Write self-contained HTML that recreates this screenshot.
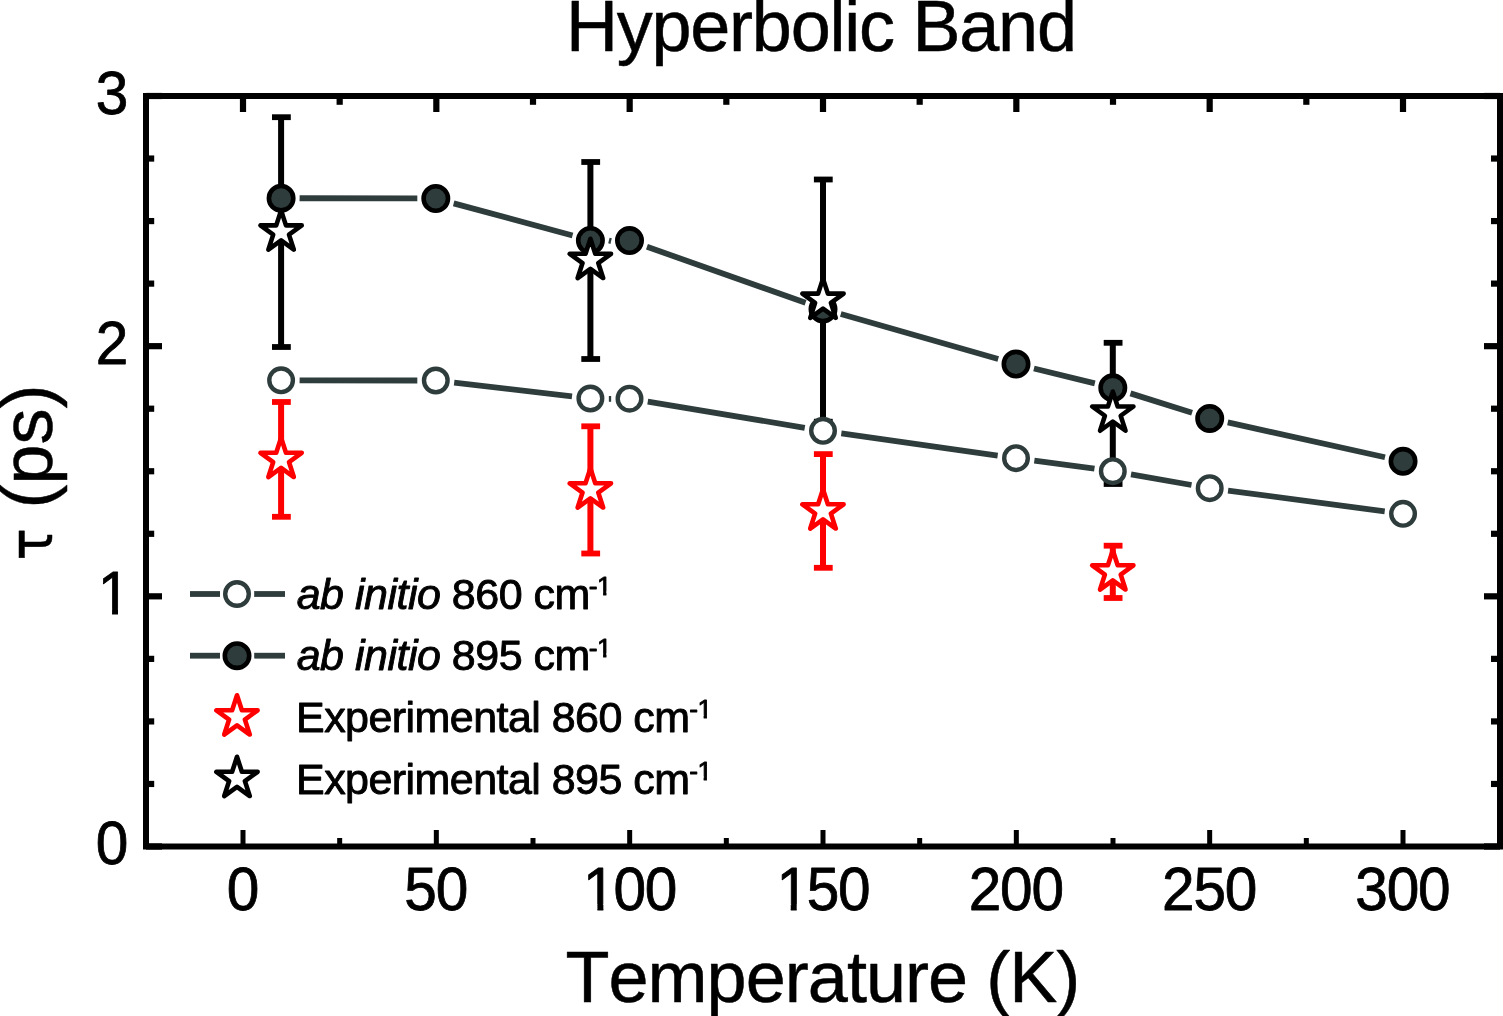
<!DOCTYPE html>
<html lang="en">
<head>
<meta charset="utf-8">
<title>Hyperbolic Band</title>
<style>
html,body{margin:0;padding:0;background:#fff;}
body{width:1503px;height:1016px;overflow:hidden;}
svg{display:block;}
svg text{font-family:"Liberation Sans",sans-serif;fill:#000;font-kerning:none;}
svg text.sym{font-family:"DejaVu Sans","Liberation Sans",sans-serif;}
</style>
</head>
<body>
<svg width="1503" height="1016" viewBox="0 0 1503 1016">
<rect x="0" y="0" width="1503" height="1016" fill="#fff"/>
<!-- error bars -->
<g stroke="#000000" fill="none">
<line x1="281.1" y1="117.2" x2="281.1" y2="347" stroke-width="6"/>
<line x1="272" y1="117.2" x2="290.8" y2="117.2" stroke-width="5.8"/>
<line x1="272" y1="347" x2="290.8" y2="347" stroke-width="5.8"/>
<line x1="590.4" y1="162" x2="590.4" y2="359" stroke-width="6"/>
<line x1="581.3" y1="162" x2="600.1" y2="162" stroke-width="5.8"/>
<line x1="581.3" y1="359" x2="600.1" y2="359" stroke-width="5.8"/>
<line x1="823" y1="179.5" x2="823" y2="421.7" stroke-width="6"/>
<line x1="813.9" y1="179.5" x2="832.7" y2="179.5" stroke-width="5.8"/>
<line x1="813.9" y1="421.7" x2="832.7" y2="421.7" stroke-width="5.8"/>
<line x1="1112.8" y1="342.8" x2="1112.8" y2="484" stroke-width="6"/>
<line x1="1103.7" y1="342.8" x2="1122.5" y2="342.8" stroke-width="5.8"/>
<line x1="1103.7" y1="484" x2="1122.5" y2="484" stroke-width="5.8"/>
</g>
<g stroke="#ff0000" fill="none">
<line x1="281.1" y1="402" x2="281.1" y2="516.8" stroke-width="6"/>
<line x1="272" y1="402" x2="290.8" y2="402" stroke-width="5.8"/>
<line x1="272" y1="516.8" x2="290.8" y2="516.8" stroke-width="5.8"/>
<line x1="590.4" y1="426.3" x2="590.4" y2="553.5" stroke-width="6"/>
<line x1="581.3" y1="426.3" x2="600.1" y2="426.3" stroke-width="5.8"/>
<line x1="581.3" y1="553.5" x2="600.1" y2="553.5" stroke-width="5.8"/>
<line x1="823" y1="454.1" x2="823" y2="567.8" stroke-width="6"/>
<line x1="813.9" y1="454.1" x2="832.7" y2="454.1" stroke-width="5.8"/>
<line x1="813.9" y1="567.8" x2="832.7" y2="567.8" stroke-width="5.8"/>
<line x1="1112.8" y1="545.7" x2="1112.8" y2="598" stroke-width="6"/>
<line x1="1103.7" y1="545.7" x2="1122.5" y2="545.7" stroke-width="5.8"/>
<line x1="1103.7" y1="598" x2="1122.5" y2="598" stroke-width="5.8"/>
</g>
<!-- series lines -->
<g stroke="#2e3d3c" stroke-width="5.8" fill="none">
<line x1="299.6" y1="380.32" x2="417.3" y2="380.48"/>
<line x1="454.18" y1="382.64" x2="572.02" y2="396.36"/>
<line x1="608.85" y1="398.9" x2="611.15" y2="398.9"/>
<line x1="647.75" y1="401.73" x2="804.75" y2="427.77"/>
<line x1="841.32" y1="433.4" x2="997.68" y2="455.6"/>
<line x1="1034.34" y1="460.66" x2="1094.46" y2="468.74"/>
<line x1="1131.02" y1="474.4" x2="1191.48" y2="485"/>
<line x1="1228.04" y1="490.63" x2="1384.71" y2="511.37"/>
<line x1="299.6" y1="198.24" x2="417.3" y2="198.46"/>
<line x1="453.66" y1="203.34" x2="572.54" y2="235.56"/>
<line x1="608.88" y1="240.52" x2="611.12" y2="241.08"/>
<line x1="646.95" y1="246.76" x2="805.55" y2="302.74"/>
<line x1="840.79" y1="313.99" x2="998.21" y2="359.01"/>
<line x1="1033.97" y1="368.5" x2="1094.83" y2="383.4"/>
<line x1="1130.44" y1="393.37" x2="1192.06" y2="412.83"/>
<line x1="1227.76" y1="422.41" x2="1384.99" y2="457.29"/>
</g>
<!-- markers -->
<g stroke="#2e3d3c" fill="#fff" stroke-width="4.4">
<circle cx="281.1" cy="380.3" r="11.8"/>
<circle cx="435.8" cy="380.5" r="11.8"/>
<circle cx="590.4" cy="398.5" r="11.8"/>
<circle cx="629.5" cy="398.7" r="11.8"/>
<circle cx="823" cy="430.8" r="11.8"/>
<circle cx="1016" cy="458.2" r="11.8"/>
<circle cx="1112.8" cy="471.2" r="11.8"/>
<circle cx="1209.7" cy="488.2" r="11.8"/>
<circle cx="1403.05" cy="513.8" r="11.8"/>
</g>
<g stroke="#000000" fill="#2e3d3c" stroke-width="4.6">
<circle cx="281.1" cy="198.2" r="12.2"/>
<circle cx="435.8" cy="198.5" r="12.2"/>
<circle cx="590.4" cy="240.4" r="12.2"/>
<circle cx="629.5" cy="240.6" r="12.2"/>
<circle cx="823" cy="308.9" r="12.2"/>
<circle cx="1016" cy="364.1" r="12.2"/>
<circle cx="1112.8" cy="387.8" r="12.2"/>
<circle cx="1209.7" cy="418.4" r="12.2"/>
<circle cx="1403.05" cy="461.3" r="12.2"/>
</g>
<g stroke="#ff0000" fill="#fff" stroke-width="4.6" stroke-linejoin="round">
<polygon points="281.1,437.8 285.97,452.79 301.74,452.79 288.98,462.06 293.85,477.06 281.1,467.79 268.35,477.06 273.22,462.06 260.46,452.79 276.23,452.79"/>
<polygon points="590.4,468.3 595.27,483.29 611.04,483.29 598.28,492.56 603.15,507.56 590.4,498.29 577.65,507.56 582.52,492.56 569.76,483.29 585.53,483.29"/>
<polygon points="823,489.3 827.87,504.29 843.64,504.29 830.88,513.56 835.75,528.56 823,519.29 810.25,528.56 815.12,513.56 802.36,504.29 818.13,504.29"/>
<polygon points="1112.8,550.3 1117.67,565.29 1133.44,565.29 1120.68,574.56 1125.55,589.56 1112.8,580.29 1100.05,589.56 1104.92,574.56 1092.16,565.29 1107.93,565.29"/>
</g>
<g stroke="#000000" fill="#fff" stroke-width="4.6" stroke-linejoin="round">
<polygon points="281.1,210.4 285.97,225.39 301.74,225.39 288.98,234.66 293.85,249.66 281.1,240.39 268.35,249.66 273.22,234.66 260.46,225.39 276.23,225.39"/>
<polygon points="590.4,238.8 595.27,253.79 611.04,253.79 598.28,263.06 603.15,278.06 590.4,268.79 577.65,278.06 582.52,263.06 569.76,253.79 585.53,253.79"/>
<polygon points="823,278.6 827.87,293.59 843.64,293.59 830.88,302.86 835.75,317.86 823,308.59 810.25,317.86 815.12,302.86 802.36,293.59 818.13,293.59"/>
<polygon points="1112.8,391.5 1117.67,406.49 1133.44,406.49 1120.68,415.76 1125.55,430.76 1112.8,421.49 1100.05,430.76 1104.92,415.76 1092.16,406.49 1107.93,406.49"/>
</g>
<!-- legend symbols -->
<g stroke="#2e3d3c" stroke-width="5.8" fill="none">
<line x1="190" y1="594" x2="220" y2="594"/>
<line x1="254.2" y1="594" x2="285" y2="594"/>
<line x1="190" y1="655.7" x2="220" y2="655.7"/>
<line x1="254.2" y1="655.7" x2="285" y2="655.7"/>
</g>
<circle cx="237" cy="594" r="11.8" stroke="#2e3d3c" fill="#fff" stroke-width="4.4"/>
<circle cx="237" cy="655.7" r="12.2" stroke="#000" fill="#2e3d3c" stroke-width="4.6"/>
<polygon points="237,695.3 241.87,710.29 257.64,710.29 244.88,719.56 249.75,734.56 237,725.29 224.25,734.56 229.12,719.56 216.36,710.29 232.13,710.29" stroke="#ff0000" fill="#fff" stroke-width="4.6" stroke-linejoin="round"/>
<polygon points="237,756.8 241.87,771.79 257.64,771.79 244.88,781.06 249.75,796.06 237,786.79 224.25,796.06 229.12,781.06 216.36,771.79 232.13,771.79" stroke="#000" fill="#fff" stroke-width="4.6" stroke-linejoin="round"/>
<!-- axes -->
<g fill="#000">
<rect x="146" y="96" width="1354" height="750.5" fill="none" stroke="#000" stroke-width="6"/>
<rect x="239.9" y="96" width="6.2" height="16"/>
<rect x="240.5" y="830" width="5" height="16.5"/>
<rect x="336.57" y="96" width="6.2" height="8.8"/>
<rect x="337.17" y="838" width="5" height="8.5"/>
<rect x="433.23" y="96" width="6.2" height="16"/>
<rect x="433.83" y="830" width="5" height="16.5"/>
<rect x="529.9" y="96" width="6.2" height="8.8"/>
<rect x="530.5" y="838" width="5" height="8.5"/>
<rect x="626.57" y="96" width="6.2" height="16"/>
<rect x="627.17" y="830" width="5" height="16.5"/>
<rect x="723.23" y="96" width="6.2" height="8.8"/>
<rect x="723.83" y="838" width="5" height="8.5"/>
<rect x="819.9" y="96" width="6.2" height="16"/>
<rect x="820.5" y="830" width="5" height="16.5"/>
<rect x="916.57" y="96" width="6.2" height="8.8"/>
<rect x="917.17" y="838" width="5" height="8.5"/>
<rect x="1013.23" y="96" width="6.2" height="16"/>
<rect x="1013.83" y="830" width="5" height="16.5"/>
<rect x="1109.9" y="96" width="6.2" height="8.8"/>
<rect x="1110.5" y="838" width="5" height="8.5"/>
<rect x="1206.57" y="96" width="6.2" height="16"/>
<rect x="1207.17" y="830" width="5" height="16.5"/>
<rect x="1303.23" y="96" width="6.2" height="8.8"/>
<rect x="1303.83" y="838" width="5" height="8.5"/>
<rect x="1399.9" y="96" width="6.2" height="16"/>
<rect x="1400.5" y="830" width="5" height="16.5"/>
<rect x="146" y="843.4" width="16" height="6.2"/>
<rect x="1484" y="843.4" width="16" height="6.2"/>
<rect x="146" y="780.86" width="8.2" height="6.2"/>
<rect x="1491" y="780.86" width="9" height="6.2"/>
<rect x="146" y="718.32" width="8.2" height="6.2"/>
<rect x="1491" y="718.32" width="9" height="6.2"/>
<rect x="146" y="655.77" width="8.2" height="6.2"/>
<rect x="1491" y="655.77" width="9" height="6.2"/>
<rect x="146" y="593.23" width="16" height="6.2"/>
<rect x="1484" y="593.23" width="16" height="6.2"/>
<rect x="146" y="530.69" width="8.2" height="6.2"/>
<rect x="1491" y="530.69" width="9" height="6.2"/>
<rect x="146" y="468.15" width="8.2" height="6.2"/>
<rect x="1491" y="468.15" width="9" height="6.2"/>
<rect x="146" y="405.61" width="8.2" height="6.2"/>
<rect x="1491" y="405.61" width="9" height="6.2"/>
<rect x="146" y="343.07" width="16" height="6.2"/>
<rect x="1484" y="343.07" width="16" height="6.2"/>
<rect x="146" y="280.52" width="8.2" height="6.2"/>
<rect x="1491" y="280.52" width="9" height="6.2"/>
<rect x="146" y="217.98" width="8.2" height="6.2"/>
<rect x="1491" y="217.98" width="9" height="6.2"/>
<rect x="146" y="155.44" width="8.2" height="6.2"/>
<rect x="1491" y="155.44" width="9" height="6.2"/>
<rect x="146" y="92.9" width="16" height="6.2"/>
<rect x="1484" y="92.9" width="16" height="6.2"/>
</g>
<!-- text -->
<defs>
<clipPath id="c1" clipPathUnits="userSpaceOnUse"><path clip-rule="evenodd" d="M-3000 -3000H3000V3000H-3000Z M-45.7 -5.96H-33V2.4H-45.7Z M-26.81 -5.96H-14.6V2.4H-26.81Z"/></clipPath>
<clipPath id="c2" clipPathUnits="userSpaceOnUse"><path clip-rule="evenodd" d="M-3000 -3000H3000V3000H-3000Z M-45.7 -5.96H-33V2.4H-45.7Z M-26.81 -5.96H-14.6V2.4H-26.81Z"/></clipPath>
<clipPath id="c3" clipPathUnits="userSpaceOnUse"><path clip-rule="evenodd" d="M-3000 -3000H3000V3000H-3000Z M-29.6 -5.96H-16.9V2.4H-29.6Z M-10.71 -5.96H1.5V2.4H-10.71Z"/></clipPath>
<clipPath id="c4" clipPathUnits="userSpaceOnUse"><path clip-rule="evenodd" d="M-3000 -3000H3000V3000H-3000Z M299.82 -17.12H306.45V-11.25H299.82Z M309.68 -17.12H316.1V-11.25H309.68Z"/></clipPath>
<clipPath id="c5" clipPathUnits="userSpaceOnUse"><path clip-rule="evenodd" d="M-3000 -3000H3000V3000H-3000Z M299.82 -17.12H306.45V-11.25H299.82Z M309.68 -17.12H316.1V-11.25H309.68Z"/></clipPath>
<clipPath id="c6" clipPathUnits="userSpaceOnUse"><path clip-rule="evenodd" d="M-3000 -3000H3000V3000H-3000Z M401.05 -17.12H407.68V-11.25H401.05Z M410.92 -17.12H417.34V-11.25H410.92Z"/></clipPath>
<clipPath id="c7" clipPathUnits="userSpaceOnUse"><path clip-rule="evenodd" d="M-3000 -3000H3000V3000H-3000Z M401.05 -17.12H407.68V-11.25H401.05Z M410.92 -17.12H417.34V-11.25H410.92Z"/></clipPath>
</defs>
<text transform="translate(566 51)" font-size="72" text-anchor="start" stroke="#000" stroke-width="0.5" stroke-linejoin="round" letter-spacing="-1.24">Hyperbolic Band</text>
<text transform="translate(565.5 1001.5)" font-size="72" text-anchor="start" stroke="#000" stroke-width="0.5" stroke-linejoin="round" letter-spacing="-0.96">Temperature (K)</text>
<text transform="translate(52 560.3) rotate(-90) scale(0.885 1)" font-size="60" text-anchor="start" stroke="#000" stroke-width="0.5" stroke-linejoin="round" class="sym">τ</text>
<text transform="translate(52 508.5) rotate(-90)" font-size="72" text-anchor="start" stroke="#000" stroke-width="0.5" stroke-linejoin="round">(ps)</text>
<text transform="translate(242.42 910.2) scale(0.96 1)" font-size="61" stroke="#000" stroke-width="0.8" stroke-linejoin="round" x="-16.36">0</text>
<text transform="translate(435.76 910.2) scale(0.96 1)" font-size="61" stroke="#000" stroke-width="0.8" stroke-linejoin="round" x="-32.73 0">50</text>
<text transform="translate(629.09 910.2) scale(0.96 1)" font-size="61" stroke="#000" stroke-width="0.8" stroke-linejoin="round" x="-47.94 -16.36 16.36" clip-path="url(#c1)">100</text>
<text transform="translate(822.42 910.2) scale(0.96 1)" font-size="61" stroke="#000" stroke-width="0.8" stroke-linejoin="round" x="-47.94 -16.36 16.36" clip-path="url(#c2)">150</text>
<text transform="translate(1015.76 910.2) scale(0.96 1)" font-size="61" stroke="#000" stroke-width="0.8" stroke-linejoin="round" x="-49.09 -16.36 16.36">200</text>
<text transform="translate(1209.09 910.2) scale(0.96 1)" font-size="61" stroke="#000" stroke-width="0.8" stroke-linejoin="round" x="-49.09 -16.36 16.36">250</text>
<text transform="translate(1402.42 910.2) scale(0.96 1)" font-size="61" stroke="#000" stroke-width="0.8" stroke-linejoin="round" x="-49.09 -16.36 16.36">300</text>
<text transform="translate(128.3 864.3) scale(0.96 1)" font-size="61" stroke="#000" stroke-width="0.8" stroke-linejoin="round" x="-33.93">0</text>
<text transform="translate(128.3 614.13) scale(0.96 1)" font-size="61" stroke="#000" stroke-width="0.8" stroke-linejoin="round" x="-31.84" clip-path="url(#c3)">1</text>
<text transform="translate(128.3 363.97) scale(0.96 1)" font-size="61" stroke="#000" stroke-width="0.8" stroke-linejoin="round" x="-33.93">2</text>
<text transform="translate(128.3 113.8) scale(0.96 1)" font-size="61" stroke="#000" stroke-width="0.8" stroke-linejoin="round" x="-33.93">3</text>
<text transform="translate(296.7 608.6)" font-size="43" text-anchor="start" stroke="#000" stroke-width="0.9" stroke-linejoin="round" letter-spacing="-0.5" clip-path="url(#c4)"><tspan font-style="italic">ab initio</tspan> 860 cm<tspan font-size="26.4" dy="-13.7" dx="-1.2">-1</tspan></text>
<text transform="translate(296.7 670.4)" font-size="43" text-anchor="start" stroke="#000" stroke-width="0.9" stroke-linejoin="round" letter-spacing="-0.5" clip-path="url(#c5)"><tspan font-style="italic">ab initio</tspan> 895 cm<tspan font-size="26.4" dy="-13.7" dx="-1.2">-1</tspan></text>
<text transform="translate(296 732.1)" font-size="43" text-anchor="start" stroke="#000" stroke-width="0.9" stroke-linejoin="round" letter-spacing="-0.55" clip-path="url(#c6)">Experimental 860 cm<tspan font-size="26.4" dy="-13.7" dx="-0.2">-1</tspan></text>
<text transform="translate(296 793.6)" font-size="43" text-anchor="start" stroke="#000" stroke-width="0.9" stroke-linejoin="round" letter-spacing="-0.55" clip-path="url(#c7)">Experimental 895 cm<tspan font-size="26.4" dy="-13.7" dx="-0.2">-1</tspan></text>
</svg>
</body>
</html>
